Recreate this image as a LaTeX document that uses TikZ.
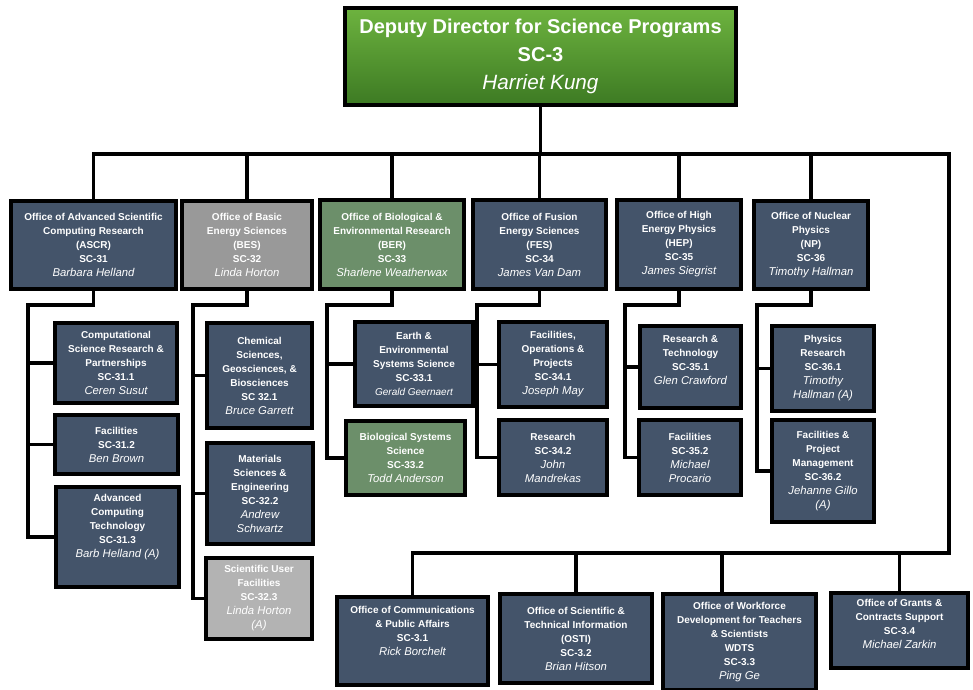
\documentclass[tikz,border=0pt]{standalone}
\usepackage{fontspec}
\setmainfont{Liberation Sans}

\definecolor{unitblue}{HTML}{44546A}
\definecolor{besgray}{HTML}{999999}
\definecolor{sufgray}{HTML}{B3B3B3}
\definecolor{bergreen}{HTML}{6C8F6A}
\definecolor{dirtop}{HTML}{6DB33F}
\definecolor{dirbot}{HTML}{3D7A23}

\newcommand{\who}[2][8.5]{{\fontsize{#1}{#1}\selectfont\mdseries\itshape #2}}

\tikzset{every picture/.style={line width=0.75pt},
  wh/.style 2 args={minimum width=#1*0.75pt, minimum height=#2*0.75pt},
  unit/.style={draw=black, line width=2.8pt, fill=unitblue, text=white, align=center,
    inner sep=2pt, font=\bfseries\fontsize{7.5}{10.5}\selectfont},
  link/.style={draw=black, line width=2.6pt}
}

\begin{document}
\begin{tikzpicture}[x=0.75pt,y=0.75pt,yscale=-1,xscale=1]
\useasboundingbox (0,0) rectangle (973,689);
% deputy director
\node [unit, wh={391}{97}, top color=dirtop, bottom color=dirbot, line width=3pt,
  font=\bfseries\fontsize{15}{21}\selectfont] (dir) at (540.5,56.5)
  {Deputy Director for Science Programs\\SC-3\\\who[15.5]{Harriet Kung}};

% offices
\node [unit, wh={165}{88}] (ascr) at (93.5,245) {Office of Advanced Scientific\\Computing Research\\(ASCR)\\SC-31\\\who{Barbara Helland}};
\node [unit, wh={130}{88}, fill=besgray] (bes) at (247,245) {Office of Basic\\Energy Sciences\\(BES)\\SC-32\\\who{Linda Horton}};
\node [unit, wh={144}{89}, fill=bergreen] (ber) at (392,244.5) {Office of Biological \&\\Environmental Research\\(BER)\\SC-33\\\who{Sharlene Weatherwax}};
\node [unit, wh={133}{89}] (fes) at (539.5,244.5) {Office of Fusion\\Energy Sciences\\(FES)\\SC-34\\\who{James Van Dam}};
\node [unit, wh={124}{89}] (hep) at (679,244.5) {Office of High\\Energy Physics\\(HEP)\\SC-35\\\who{James Siegrist}};
\node [unit, wh={114}{88}] (np) at (811,245) {Office of Nuclear\\Physics\\(NP)\\SC-36\\\who{Timothy Hallman}};

% divisions
\node [unit, wh={122}{80}] (csrp) at (116,363) {Computational\\Science Research \&\\Partnerships\\SC-31.1\\\who{Ceren Susut}};
\node [unit, wh={123}{59}] (afac) at (116.5,444.5) {Facilities\\SC-31.2\\\who{Ben Brown}};
\node [unit, wh={123}{100}] (act) at (117.5,537) {Advanced\\Computing\\Technology\\SC-31.3\\\who{Barb Helland (A)}\\[6pt]~};
\node [unit, wh={105}{105}] (chem) at (259.5,375.5) {Chemical\\Sciences,\\Geosciences, \&\\Biosciences\\SC 32.1\\\who{Bruce Garrett}};
\node [unit, wh={106}{101}] (mat) at (260,493.5) {Materials\\Sciences \&\\Engineering\\SC-32.2\\\who{Andrew}\\\who{Schwartz}};
\node [unit, wh={106}{81}, fill=sufgray] (suf) at (259,598.5) {Scientific User\\Facilities\\SC-32.3\\\who{Linda Horton}\\\who{(A)}};
\node [unit, wh={118}{84}] (earth) at (414,364) {Earth \&\\Environmental\\Systems Science\\SC-33.1\\\who[7.5]{Gerald Geernaert}};
\node [unit, wh={119}{74}, fill=bergreen] (bsys) at (405.5,458) {Biological Systems\\Science\\SC-33.2\\\who{Todd Anderson}};
\node [unit, wh={108}{85}] (fop) at (553,364.5) {Facilities,\\Operations \&\\Projects\\SC-34.1\\\who{Joseph May}};
\node [unit, wh={108}{75}] (fres) at (553,457.5) {Research\\SC-34.2\\\who{John}\\\who{Mandrekas}};
\node [unit, wh={101}{82}] (rt) at (690.5,367) {Research \&\\Technology\\SC-35.1\\\who{Glen Crawford}\\~};
\node [unit, wh={102}{75}] (hfac) at (690,457.5) {Facilities\\SC-35.2\\\who{Michael}\\\who{Procario}};
\node [unit, wh={102}{85}] (pr) at (823,368.5) {Physics\\Research\\SC-36.1\\\who{Timothy}\\\who{Hallman (A)}};
\node [unit, wh={102}{102}] (fpm) at (823,471) {Facilities \&\\Project\\Management\\SC-36.2\\\who{Jehanne Gillo}\\\who{(A)}};

% staff offices
\node [unit, wh={151}{88}] (comms) at (412.5,641) {Office of Communications\\\& Public Affairs\\SC-3.1\\\who{Rick Borchelt}\\[4pt]~};
\node [unit, wh={152}{89}] (osti) at (576,638.5) {Office of Scientific \&\\Technical Information\\(OSTI)\\SC-3.2\\\who{Brian Hitson}};
\node [unit, wh={153}{96}] (wdts) at (739.5,642) {Office of Workforce\\Development for Teachers\\\& Scientists\\WDTS\\SC-3.3\\\who{Ping Ge}};
\node [unit, wh={137}{75}] (grants) at (899.5,630.5) {Office of Grants \&\\Contracts Support\\SC-3.4\\\who{Michael Zarkin}\\~};

% top bus
\coordinate (busR) at (949,154);
\coordinate (busB) at (949,553);
\coordinate (wdtsTap) at (722,553);
\draw [link] (ascr.north) |- (busR) -- (busB) -| (comms.north);
\draw [link] (dir.south) -- (dir.south |- busR);
\draw [link] (bes.north) -- (bes.north |- busR);
\draw [link] (ber.north) -- (ber.north |- busR);
\draw [link] (fes.north) -- (fes.north |- busR);
\draw [link] (hep.north) -- (hep.north |- busR);
\draw [link] (np.north) -- (np.north |- busR);
\draw [link] (osti.north) -- (osti.north |- busB);
\draw [link] (wdtsTap) -- (wdtsTap |- wdts.north);
\draw [link] (grants.north) -- (grants.north |- busB);

% ASCR
\coordinate (ascrS) at (28,305);
\draw [link] (ascr.south) |- (ascrS) |- (act.west);
\draw [link] (ascrS) |- (csrp.west);
\draw [link] (ascrS) |- (afac.west);
% BES
\coordinate (besS) at (193,305);
\draw [link] (bes.south) |- (besS) |- (suf.west);
\draw [link] (besS) |- (chem.west);
\draw [link] (besS) |- (mat.west);
% BER
\coordinate (berS) at (327,305);
\draw [link] (ber.south) |- (berS) |- (bsys.west);
\draw [link] (berS) |- (earth.west);
% FES
\coordinate (fesS) at (477,305);
\draw [link] (fes.south) |- (fesS) |- (fres.west);
\draw [link] (fesS) |- (fop.west);
% HEP
\coordinate (hepS) at (625,305);
\draw [link] (hep.south) |- (hepS) |- (hfac.west);
\draw [link] (hepS) |- (rt.west);
% NP
\coordinate (npS) at (757,305);
\draw [link] (np.south) |- (npS) |- (fpm.west);
\draw [link] (npS) |- (pr.west);
\end{tikzpicture}
\end{document}
